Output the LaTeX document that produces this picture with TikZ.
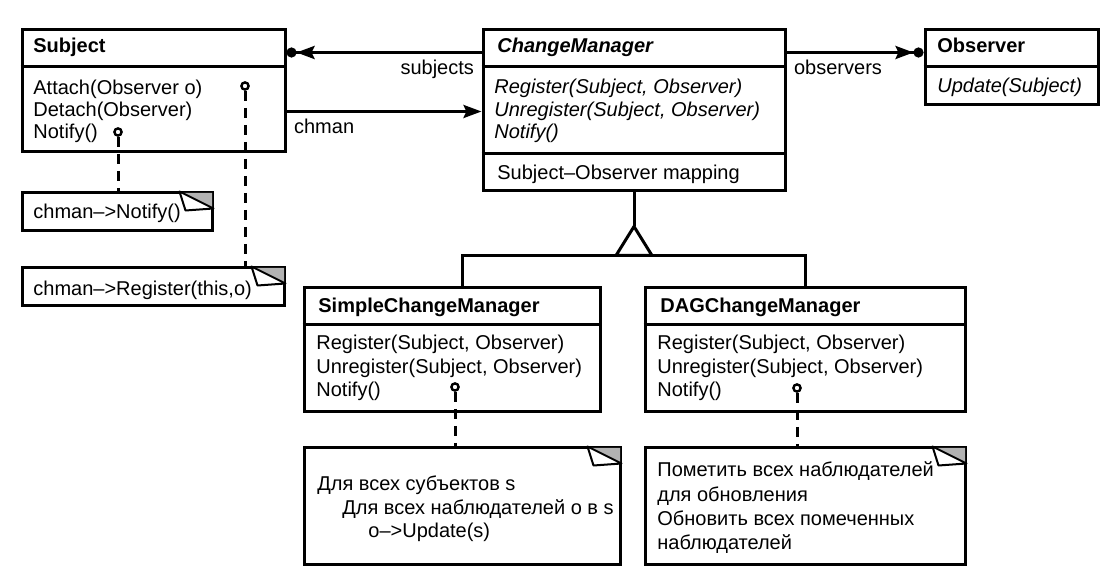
\documentclass[tikz,border=0pt]{standalone}
\usepackage{fontspec}
\setmainfont{Liberation Sans}
\usetikzlibrary{arrows.meta, positioning, fit}

\begin{document}
\begin{tikzpicture}[x=0.5pt, y=-0.5pt,
    box/.style={draw, line width=1.5pt, inner sep=0pt},
    sep/.style={line width=1.5pt},
    cname/.style={anchor=base west, inner sep=0pt, font=\bfseries},
    ops/.style={anchor=base west, inner sep=0pt, align=left, font=\fontsize{10}{11}\selectfont},
    iops/.style={ops, font=\fontsize{10}{11.25}\selectfont\itshape},
    notetext/.style={anchor=base west, inner sep=0pt, align=left, font=\fontsize{10}{11.8}\selectfont},
    port/.style={draw, circle, line width=1.2pt, inner sep=0pt, minimum size=3.6pt},
    dashline/.style={line width=1.5pt, dash pattern=on 5pt off 3.5pt},
    assoc/.style={line width=1.6pt, -{Stealth[length=9pt, width=6.5pt, inset=1.5pt] Circle[length=5pt]}},
    navig/.style={line width=1.6pt, -{Stealth[length=9pt, width=6.5pt, inset=1.5pt]}},
    gen/.style={line width=1.5pt},
    lbl/.style={inner sep=3pt}
]
\useasboundingbox (0,0) rectangle (1119,587);

% classes (multi-line texts sit on the baseline of their last line)
\node[box, fit={(22,30) (285,152)}] (subj) {};
\draw[sep] (subj.west |- 0,67) -- (subj.east |- 0,67);
\node[cname] (subjname) at (33,53) {Subject};
\node[ops] (subjops) at (33,139) {Attach(Observer o)\\Detach(Observer)\\Notify()};

\node[box, fit={(483,30) (785,191)}] (cm) {};
\draw[sep] (cm.west |- 0,67) -- (cm.east |- 0,67);
\draw[sep] (cm.west |- 0,154) -- (cm.east |- 0,154);
\node[cname, font=\bfseries\itshape] (cmname) at (497,53) {ChangeManager};
\node[iops] (cmops) at (494,139) {Register(Subject, Observer)\\Unregister(Subject, Observer)\\Notify()};
\node[ops] (cmdata) at (497,180) {Subject–Observer mapping};

\node[box, fit={(925,30) (1098,105)}] (obs) {};
\draw[sep] (obs.west |- 0,67) -- (obs.east |- 0,67);
\node[cname] (obsname) at (937,53) {Observer};
\node[iops] (obsops) at (937,93) {Update(Subject)};

\node[box, fit={(304,288) (600,412)}] (scm) {};
\draw[sep] (scm.west |- 0,325) -- (scm.east |- 0,325);
\node[cname] (scmname) at (318,313) {SimpleChangeManager};
\node[ops, font=\fontsize{10}{11.75}\selectfont] (scmops) at (316,397) {Register(Subject, Observer)\\Unregister(Subject, Observer)\\Notify()};

\node[box, fit={(645,288) (965,412)}] (dag) {};
\draw[sep] (dag.west |- 0,325) -- (dag.east |- 0,325);
\node[cname] (dagname) at (660,313) {DAGChangeManager};
\node[ops, font=\fontsize{10}{11.75}\selectfont] (dagops) at (657,397) {Register(Subject, Observer)\\Unregister(Subject, Observer)\\Notify()};

% notes
\node[box, fit={(22,193) (212,231)}] (n1) {};
\node[notetext] (t1) at (33,219) {chman–>Notify()};
\node[box, fit={(22,268) (284,306)}] (n2) {};
\node[notetext] (t2) at (33,296) {chman–>Register(this,o)};
\node[box, fit={(304,448) (620,564)}] (n3) {};
\node[notetext] (t3) at (317,538) {Для всех субъектов s\\\hspace*{12.5pt}Для всех наблюдателей о в s\\\hspace*{25.5pt}o–>Update(s)};
\node[box, fit={(645,448) (965,564)}] (n4) {};
\node[notetext, font=\fontsize{10}{12}\selectfont] (t4) at (657,549) {Пометить всех наблюдателей\\для обновления\\Обновить всех помеченных\\наблюдателей};

\foreach \n in {n1,n2,n3,n4}{
  \fill[black!30] ([xshift=-17pt, yshift=-0.75pt]\n.north east) -- ([xshift=-0.75pt, yshift=-0.75pt]\n.north east) -- ([xshift=-0.75pt, yshift=-8.5pt]\n.north east) -- cycle;
  \draw[line width=1pt, fill=white, line join=round] ([xshift=-17pt]\n.north east) -- ([xshift=-14pt, yshift=-9.5pt]\n.north east) -- ([yshift=-8.5pt]\n.north east) -- cycle;
}

% ports and note links
\node[port] (p1) at (118,132) {};
\node[port] (p2) at (245,86) {};
\node[port] (p3) at (455,387) {};
\node[port] (p4) at (797,388) {};
\draw[dashline] (p1) -- (p1 |- n1.north);
\draw[dashline] (p2) -- (p2 |- n2.north);
\draw[dashline] (p3) -- (p3 |- n3.north);
\draw[dashline] (p4) -- (p4 |- n4.north);

% associations
\draw[assoc] ([yshift=-12pt]cm.north west) -- node[lbl, pos=0, below left] (lsubj) {subjects} ([yshift=-12pt]subj.north east);
\draw[navig] ([yshift=-41.5pt]subj.north east) -- node[lbl, pos=0, below right] (lchman) {chman} ([yshift=-41.5pt]cm.north west);
\draw[assoc] ([yshift=-12pt]cm.north east) -- node[lbl, pos=0, below right] (lobs) {observers} ([yshift=-12pt]obs.north west);

% inheritance
\coordinate (apex) at ([yshift=-17pt]cm.south);
\coordinate (base) at ([yshift=-31.5pt]cm.south);
\draw[gen] (cm.south) -- (apex);
\draw[gen] ([xshift=5pt]scm.north) |- (base) -| (dag.north);
\draw[gen, line join=miter] (apex) -- ([xshift=-9pt]base) -- ([xshift=9pt]base) -- cycle;
\end{tikzpicture}
\end{document}
